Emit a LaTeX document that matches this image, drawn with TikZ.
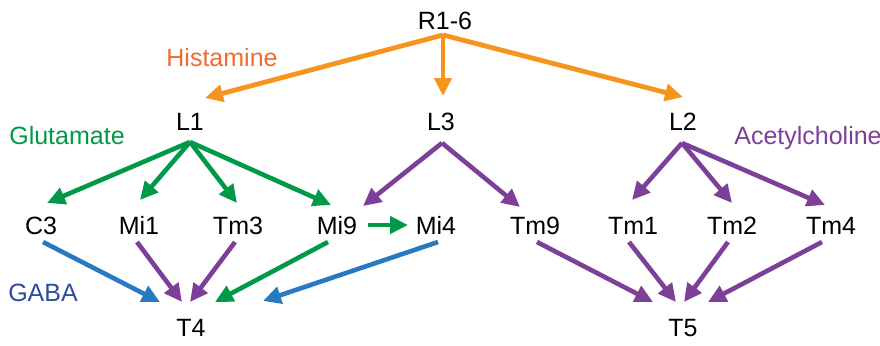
\documentclass[tikz,border=0pt]{standalone}
\usepackage{fontspec}
\setmainfont{Liberation Sans}
\usetikzlibrary{arrows.meta}
\definecolor{hisorange}{RGB}{247,148,29}
\definecolor{histext}{RGB}{242,105,50}
\definecolor{glugreen}{RGB}{0,153,72}
\definecolor{achpurple}{RGB}{125,63,152}
\definecolor{gabablue}{RGB}{39,122,192}
\definecolor{gabatext}{RGB}{45,75,160}

\begin{document}
\begin{tikzpicture}[x=0.5pt,y=-0.5pt,
  cell/.style={inner sep=0pt,text height=8.95pt,text depth=0pt,font=\fontsize{12.5}{15}\selectfont},
  syn/.style={line width=2.3pt,-{Triangle[length=9pt,width=8.5pt]}}]
\useasboundingbox (0,0) rectangle (880,345);
% cells
\node[cell] (R) at (445,21) {R1-6};
\node[cell] (L1) at (190,122) {L1};
\node[cell] (L3) at (441,122) {L3};
\node[cell] (L2) at (683,122) {L2};
\node[cell] (C3) at (41,226) {C3};
\node[cell] (Mi1) at (139,226) {Mi1};
\node[cell] (Tm3) at (238,226) {Tm3};
\node[cell] (Mi9) at (337,226) {Mi9};
\node[cell] (Mi4) at (436,226) {Mi4};
\node[cell] (Tm9) at (535,226) {Tm9};
\node[cell] (Tm1) at (633,226) {Tm1};
\node[cell] (Tm2) at (732,226) {Tm2};
\node[cell] (Tm4) at (831,226) {Tm4};
\node[cell] (T4) at (191,328) {T4};
\node[cell] (T5) at (683,328) {T5};
% transmitters
\node[cell,text=histext] (his) at (222,58) {Histamine};
\node[cell,text=glugreen] (glu) at (67,136) {Glutamate};
\node[cell,text=achpurple] (ach) at (808,136) {Acetylcholine};
\node[cell,text=gabatext] (gaba) at (43,293) {GABA};
% fork points
\coordinate (r) at ([shift={(-2,14)}]R.center);
\coordinate (l1) at ([shift={(0,20)}]L1.center);
\coordinate (l3) at ([shift={(1,21)}]L3.center);
\coordinate (l2) at ([shift={(-1,21)}]L2.center);
% histamine
\draw[syn,hisorange,line width=2.4pt] (r) -- ([shift={(15,-24)}]L1.center);
\draw[syn,hisorange,line width=2.4pt] (r) -- ([shift={(2,-26)}]L3.center);
\draw[syn,hisorange,line width=2.4pt] (r) -- ([shift={(0,-25)}]L2.center);
% glutamate
\draw[syn,glugreen] (l1) -- ([shift={(6,-23)}]C3.center);
\draw[syn,glugreen] (l1) -- ([shift={(1,-26)}]Mi1.center);
\draw[syn,glugreen] (l1) -- ([shift={(-1,-23)}]Tm3.center);
\draw[syn,glugreen] (l1) -- ([shift={(-6,-21)}]Mi9.center);
\draw[syn,glugreen] ([shift={(31,-1)}]Mi9.center) -- ([shift={(-28,-1)}]Mi4.center);
% acetylcholine
\draw[syn,achpurple] (l3) -- ([shift={(26,-20)}]Mi9.center);
\draw[syn,achpurple] (l3) -- ([shift={(-15,-19)}]Tm9.center);
\draw[syn,achpurple] (l2) -- ([shift={(-1,-26)}]Tm1.center);
\draw[syn,achpurple] (l2) -- ([shift={(0,-23)}]Tm2.center);
\draw[syn,achpurple] (l2) -- ([shift={(-6,-21)}]Tm4.center);
% onto T4
\draw[syn,gabablue] ([shift={(2,16)}]C3.center) -- ([shift={(-31,-26)}]T4.center);
\draw[syn,achpurple] ([shift={(-2,16)}]Mi1.center) -- ([shift={(-9,-26)}]T4.center);
\draw[syn,achpurple] ([shift={(-3,16)}]Tm3.center) -- ([shift={(-1,-26)}]T4.center);
\draw[syn,glugreen] ([shift={(-9,16)}]Mi9.center) -- ([shift={(24,-26)}]T4.center);
\draw[syn,gabablue] ([shift={(2,16)}]Mi4.center) -- ([shift={(72,-27)}]T4.center);
% onto T5
\draw[syn,achpurple] ([shift={(2,16)}]Tm9.center) -- ([shift={(-30,-26)}]T5.center);
\draw[syn,achpurple] ([shift={(-4,16)}]Tm1.center) -- ([shift={(-7,-26)}]T5.center);
\draw[syn,achpurple] ([shift={(-4,16)}]Tm2.center) -- ([shift={(1,-26)}]T5.center);
\draw[syn,achpurple] ([shift={(-9,16)}]Tm4.center) -- ([shift={(25,-26)}]T5.center);
\end{tikzpicture}
\end{document}
